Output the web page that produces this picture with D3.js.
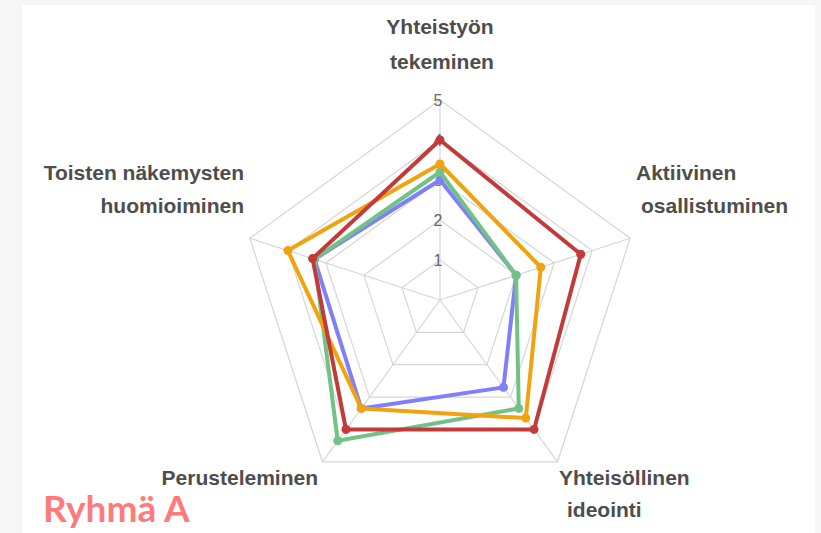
<!DOCTYPE html>
<html>
<head>
<meta charset="utf-8">
<script src="https://cdn.jsdelivr.net/npm/d3@7"></script>
<style>
  body { margin: 0; background: #f6f6f6; }
  svg { display: block; }
</style>
</head>
<body>
<div id="chart"></div>
<script>
// Chart size
var svgWidth = 821;
var svgHeight = 533;

// Axis names (clockwise from top), each split in lines
var axes = [
	["Yhteistyön", "tekeminen"],
	["Aktiivinen", "osallistuminen"],
	["Yhteisöllinen", "ideointi"],
	["Perusteleminen"],
	["Toisten näkemysten", "huomioiminen"]
];

var ticks = [1, 2, 3, 4, 5];

// Series values, same axis order
var blueValues = [3.0, 2.0, 2.7, 3.35, 3.3];
var greenValues = [3.2, 2.0, 3.35, 4.35, 3.3];
var orangeValues = [3.4, 2.65, 3.65, 3.35, 4.0];
var redValues = [4.0, 3.7, 4.0, 4.0, 3.35];

var series = [
	{ values: blueValues, color: "#7f7ffb" },
	{ values: greenValues, color: "#72c285" },
	{ values: orangeValues, color: "#f0a30f" },
	{ values: redValues, color: "#c23a3a" }
];

var cx = 440;
var cy = 300;
var radius = 200;

var svg = d3.select("#chart")
	.append("svg")
	.attr("width", svgWidth)
	.attr("height", svgHeight);

// white card
svg.append("rect")
	.attr("x", 22)
	.attr("y", 5)
	.attr("width", 793)
	.attr("height", 528)
	.attr("fill", "white");

var chartGroup = svg.append("g")
	.attr("transform", `translate(${cx}, ${cy})`);

var rScale = d3.scaleLinear()
	.domain([0, 5])
	.range([0, radius]);

var angle = d3.scaleLinear()
	.domain([0, axes.length])
	.range([0, 2 * Math.PI]);

function point(i, v) {
	var a = angle(i);
	return [Math.sin(a) * rScale(v), -Math.cos(a) * rScale(v)];
}

// grid polygons
chartGroup.selectAll(".grid")
	.data(ticks)
	.enter()
	.append("polygon")
	.attr("points", t => axes.map((d, i) => point(i, t).join(",")).join(" "))
	.attr("fill", "none")
	.attr("stroke", "#d6d6d6")
	.attr("stroke-width", 1.2);

// spokes
chartGroup.selectAll(".spoke")
	.data(axes)
	.enter()
	.append("line")
	.attr("x1", 0)
	.attr("y1", 0)
	.attr("x2", (d, i) => point(i, 5)[0])
	.attr("y2", (d, i) => point(i, 5)[1])
	.attr("stroke", "#d6d6d6")
	.attr("stroke-width", 1.2);

// tick labels on the top spoke
chartGroup.selectAll(".tick")
	.data(ticks)
	.enter()
	.append("text")
	.attr("x", -2)
	.attr("y", d => -rScale(d))
	.attr("dy", "0.35em")
	.attr("text-anchor", "middle")
	.style("font-family", "Liberation Sans, Arial, sans-serif")
	.style("font-size", "16px")
	.style("fill", "#666")
	.text(d => d);

var line = d3.line()
	.x((d, i) => point(i, d)[0])
	.y((d, i) => point(i, d)[1])
	.curve(d3.curveLinearClosed);

series.forEach(function(s) {
	chartGroup.append("path")
		.attr("d", line(s.values))
		.attr("fill", "none")
		.attr("stroke", s.color)
		.attr("stroke-width", 4)
		.attr("stroke-linejoin", "round");

	chartGroup.selectAll(null)
		.data(s.values)
		.enter()
		.append("circle")
		.attr("cx", (d, i) => point(i, d)[0])
		.attr("cy", (d, i) => point(i, d)[1])
		.attr("r", 4.5)
		.attr("fill", s.color);
});

// axis labels
var labelPos = [
	{ x: 440, y: 34, anchor: "middle", lines: [[0, 0], [2, 35]] },
	{ x: 636, y: 180, anchor: "start", lines: [[0, 0], [5, 33]] },
	{ x: 559, y: 485, anchor: "start", lines: [[0, 0], [8, 32]] },
	{ x: 318, y: 485, anchor: "end", lines: [[0, 0]] },
	{ x: 244, y: 180, anchor: "end", lines: [[0, 0], [0, 33]] }
];

axes.forEach(function(name, i) {
	var p = labelPos[i];
	name.forEach(function(txt, j) {
		svg.append("text")
			.attr("x", p.x + p.lines[j][0])
			.attr("y", p.y + p.lines[j][1])
			.attr("text-anchor", p.anchor)
			.style("font-family", "Liberation Sans, Arial, sans-serif")
			.style("font-weight", "bold")
			.style("font-size", "21px")
			.style("fill", "#4d4d4d")
			.text(txt);
	});
});

// group title
svg.append("text")
	.attr("x", 43)
	.attr("y", 522)
	.style("font-family", "Lato, sans-serif")
	.style("font-weight", "bold")
	.style("font-size", "37px")
	.style("fill", "#ff7b7b")
	.text("Ryhmä A");
</script>
</body>
</html>
